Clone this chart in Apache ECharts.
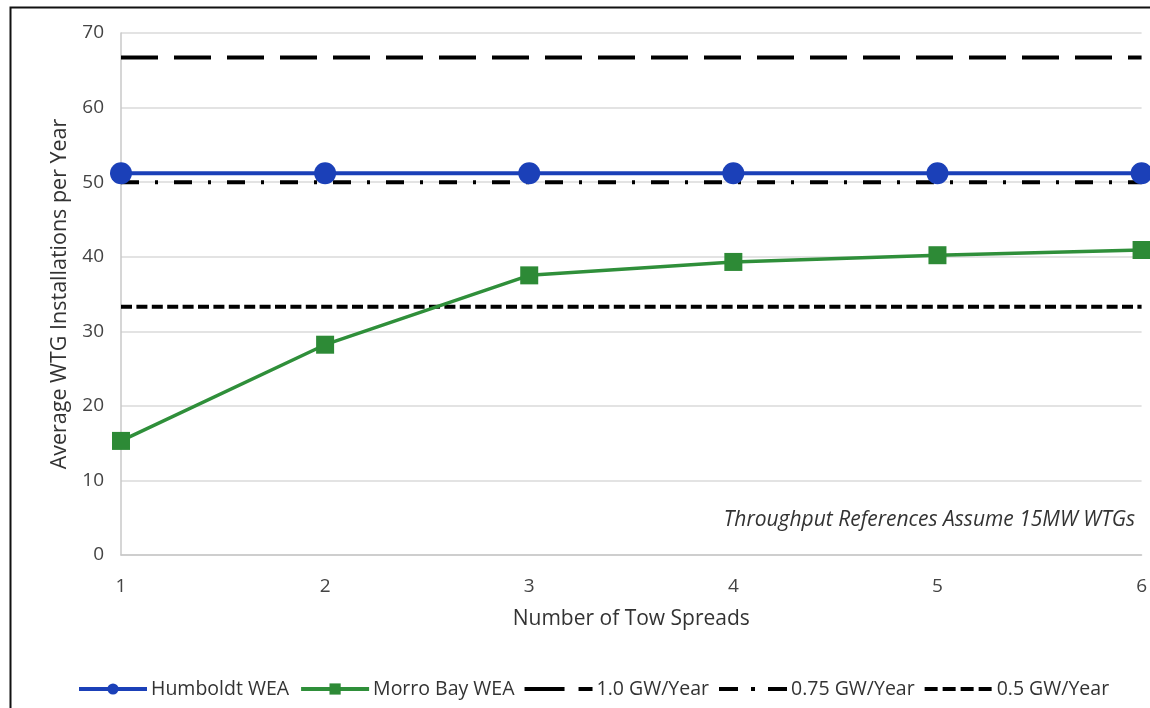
<!DOCTYPE html>
<html>
<head>
<meta charset="utf-8">
<script src="https://cdn.jsdelivr.net/npm/echarts@6/dist/echarts.min.js"></script>
<style>
html,body{margin:0;padding:0;background:#fff;}
#chart{width:1150px;height:708px;}
</style>
</head>
<body>
<div id="chart"></div>
<script>
const towSpreads = [1, 2, 3, 4, 5, 6];
const humboldt = [51.2, 51.2, 51.2, 51.2, 51.2, 51.2];
const morroBay = [15.3, 28.2, 37.5, 39.3, 40.2, 40.9];
const ref10 = [66.7, 66.7, 66.7, 66.7, 66.7, 66.7];
const ref075 = [50, 50, 50, 50, 50, 50];
const ref05 = [33.3, 33.3, 33.3, 33.3, 33.3, 33.3];
const seriesNames = ['Humboldt WEA', 'Morro Bay WEA', '1.0 GW/Year', '0.75 GW/Year', '0.5 GW/Year'];
const xAxisTitle = 'Number of Tow Spreads';
const yAxisTitle = 'Average WTG Installations per Year';
const noteText = 'Throughput References Assume 15MW WTGs';

const FONT = '"Open Sans", Lato, sans-serif';
const pair = (vals) => towSpreads.map((x, i) => [x, vals[i]]);

// legend icon helpers (corner specks keep the 68x14 box so dashes are not stretched)
const box = 'M0 0h0.01v0.01h-0.01Z M67.99 13.99h0.01v0.01h-0.01Z ';
const seg = (a, b) => `M${a} 5h${b - a}v4h-${b - a}Z `;
const icon10 = 'path://' + box + seg(0, 40) + seg(54, 68);
const icon075 = 'path://' + box + seg(0, 19) + seg(32, 36) + seg(49, 68);
const icon05 = 'path://' + box + seg(0, 13) + seg(18, 31) + seg(36, 49) + seg(54, 67);

const chart = echarts.init(document.getElementById('chart'), null, {renderer: 'canvas'});
chart.setOption({
  animation: false,
  backgroundColor: '#fff',
  textStyle: {fontFamily: FONT},
  grid: {left: 121, right: 6, top: 33, bottom: 153, containLabel: false},
  xAxis: {
    type: 'value', min: 1, max: 6, interval: 1,
    name: xAxisTitle, nameLocation: 'middle', nameGap: 54,
    nameTextStyle: {fontSize: 21, color: '#333', fontFamily: FONT},
    axisLine: {show: true, lineStyle: {color: '#c8c8c8', width: 1.5}},
    axisTick: {show: false},
    axisLabel: {fontSize: 19, color: '#444', margin: 22, fontFamily: FONT},
    splitLine: {show: false}
  },
  yAxis: {
    type: 'value', min: 0, max: 70, interval: 10,
    name: yAxisTitle, nameLocation: 'middle', nameGap: 50, nameRotate: 90,
    nameTextStyle: {fontSize: 21.5, color: '#333', fontFamily: FONT},
    axisLine: {show: true, lineStyle: {color: '#c8c8c8', width: 1.5}},
    axisTick: {show: false},
    axisLabel: {fontSize: 19, color: '#444', margin: 17, fontFamily: FONT},
    splitLine: {show: true, lineStyle: {color: '#dadada', width: 1.5}}
  },
  legend: {
    bottom: 4, left: 72,
    itemWidth: 68, itemHeight: 14, itemGap: 10,
    textStyle: {fontSize: 19.5, color: '#333', fontFamily: FONT, padding: [0, 0, 0, -1]},
    data: [
      {name: seriesNames[0], lineStyle: {width: 4}},
      {name: seriesNames[1], lineStyle: {width: 4}},
      {name: seriesNames[2], icon: icon10, itemStyle: {color: '#000'}},
      {name: seriesNames[3], icon: icon075, itemStyle: {color: '#000'}},
      {name: seriesNames[4], icon: icon05, itemStyle: {color: '#000'}}
    ]
  },
  graphic: [
    {type: 'rect', left: 8, top: 5, shape: {width: 1160, height: 720},
     style: {fill: 'none', stroke: '#111', lineWidth: 2}, silent: true},
    {type: 'text', right: 15, top: 510,
     style: {text: noteText, font: 'italic 21px ' + FONT, fill: '#333'}, silent: true}
  ],
  series: [
    {name: seriesNames[2], type: 'line', data: pair(ref10), symbol: 'none',
     lineStyle: {color: '#000', width: 4, type: [37, 16]}, itemStyle: {color: '#000'}, z: 2},
    {name: seriesNames[3], type: 'line', data: pair(ref075), symbol: 'none',
     lineStyle: {color: '#000', width: 4, type: [18, 16, 3, 16]}, itemStyle: {color: '#000'}, z: 2},
    {name: seriesNames[4], type: 'line', data: pair(ref05), symbol: 'none',
     lineStyle: {color: '#000', width: 4, type: [11, 4.4]}, itemStyle: {color: '#000'}, z: 2},
    {name: seriesNames[0], type: 'line', data: pair(humboldt), symbol: 'circle', symbolSize: 22,
     lineStyle: {color: '#1b40b8', width: 4}, itemStyle: {color: '#1b40b8'}, z: 4},
    {name: seriesNames[1], type: 'line', data: pair(morroBay), symbol: 'rect', symbolSize: 18,
     lineStyle: {color: '#2f8f3a', width: 3.5}, itemStyle: {color: '#2d8a36'}, z: 3}
  ]
});
</script>
</body>
</html>
